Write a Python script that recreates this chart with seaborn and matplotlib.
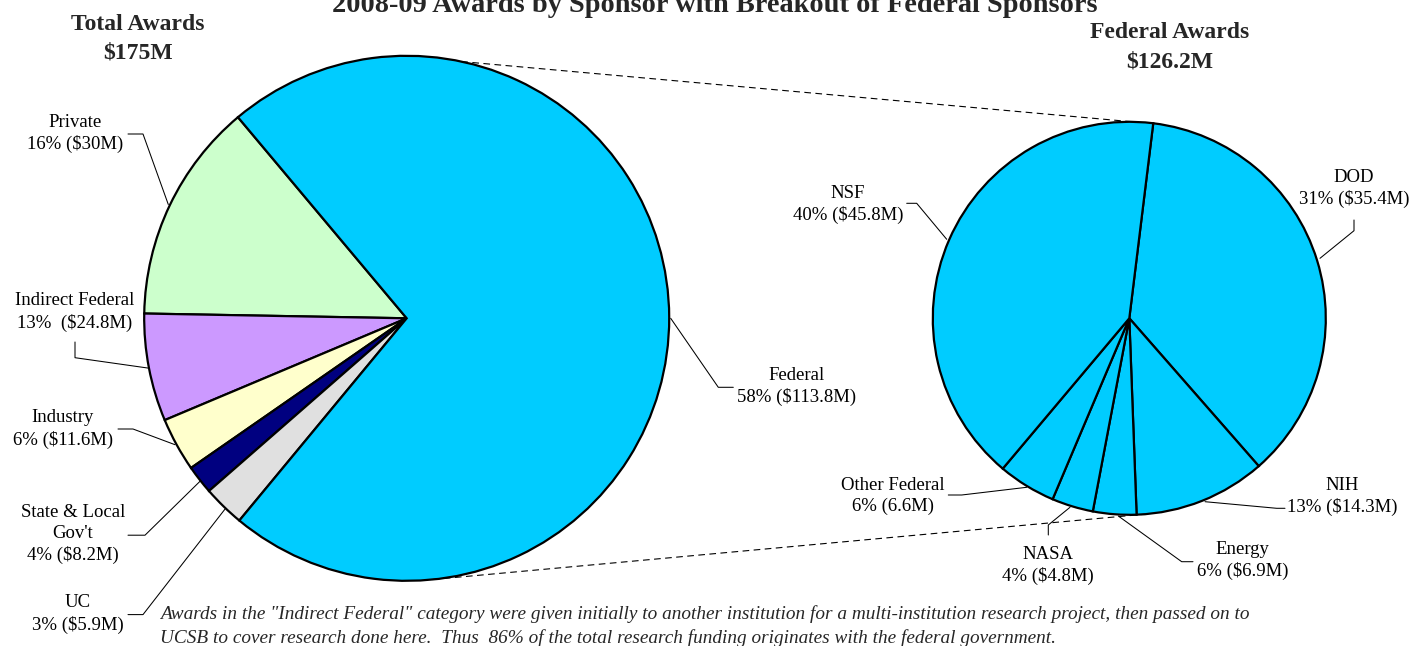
import numpy as np
import matplotlib
matplotlib.use("Agg")
import matplotlib.pyplot as plt
import seaborn as sns

# ---------------- data ----------------
outer_categories = ["Private", "Indirect Federal", "Industry", "State & Local Gov't", "UC", "Federal"]
outer_values = [23.8, 11.6, 5.8, 3.1, 4.5, 126.2]
outer_label_text = ["Private\n16% ($30M)", "Indirect Federal\n13%  ($24.8M)", "Industry\n6% ($11.6M)",
                    "State & Local\nGov't\n4% ($8.2M)", "UC\n3% ($5.9M)", "Federal\n58% ($113.8M)"]
outer_colors = ["#CCFFCC", "#CC99FF", "#FFFFCC", "#000080", "#E0E0E0", "#00CCFF"]

inner_categories = ["DOD", "NIH", "Energy", "NASA", "Other Federal", "NSF"]
inner_values = [46.2, 13.7, 4.5, 4.3, 6.0, 51.5]
inner_label_text = ["DOD\n31% ($35.4M)", "NIH\n13% ($14.3M)", "Energy\n6% ($6.9M)",
                    "NASA\n4% ($4.8M)", "Other Federal\n6% (6.6M)", "NSF\n40% ($45.8M)"]
inner_color = "#00CCFF"

title = "2008-09 Awards by Sponsor with Breakout of Federal Sponsors"
left_header = ["Total Awards", "$175M"]
right_header = ["Federal Awards", "$126.2M"]
footnote = ['Awards in the "Indirect Federal" category were given initially to another institution for a multi-institution research project, then passed on to',
            'UCSB to cover research done here.  Thus  86% of the total research funding originates with the federal government.']

# ---------------- style ----------------
sns.set_theme(style="white")
plt.rcParams['font.family'] = ['Liberation Serif', 'DejaVu Serif']

W, H = 1412, 646
fig = plt.figure(figsize=(W / 100, H / 100), dpi=100)
ax = fig.add_axes([0, 0, 1, 1])

def Y(y):
    return H - y

# layout (pixels)
lc, lr = (406.7, Y(318.3)), 262.5
rc, rr = (1129.3, Y(318.3)), 196.5

wp = dict(edgecolor="black", linewidth=1.6)
ax.pie(outer_values, colors=outer_colors, startangle=130.0, counterclock=True,
       radius=lr, center=lc, wedgeprops=wp)
ax.pie(inner_values, colors=[inner_color] * len(inner_values), startangle=83.0, counterclock=False,
       radius=rr, center=rc, wedgeprops=wp)

ax.set_xlim(0, W)
ax.set_ylim(0, H)
ax.set_aspect("equal")
ax.axis("off")

# connector dashed lines
def pt(c, r, ang):
    a = np.deg2rad(ang)
    return c[0] + r * np.cos(a), c[1] + r * np.sin(a)

for a1, a2 in [(78.0, 89.0), (-84.3, -85.4)]:
    p1 = pt(lc, lr, a1)
    p2 = pt(rc, rr, a2)
    ax.plot([p1[0], p2[0]], [p1[1], p2[1]], color="black", lw=0.8,
            dashes=(6, 4), clip_on=False)

# labels
fs = 13.5
outer_pos = [(75, 133.5), (75, 312), (63, 429), (73, 534), (78, 614), (797, 386.5)]
outer_lead = [
    [(128, 134), (143, 134), (168.3, 204.5)],
    [(75, 342), (75, 357.7), (148.3, 368.1)],
    [(118, 429), (133, 429), (175, 444.7)],
    [(128, 535.2), (145, 535.2), (200, 481.3)],
    [(128, 614.6), (143, 614.6), (225, 509.1)],
    [(733.3, 387.3), (718.3, 387.3), (670.7, 318.3)],
]
inner_pos = [(1354, 188.3), (1342, 496.2), (1242.5, 560.5), (1048.3, 565.5), (893.3, 496.3), (848, 204.5)]
inner_lead = [
    [(1354, 220), (1354, 230.7), (1320, 258.3)],
    [(1285, 508.3), (1276.7, 508.3), (1205, 501.7)],
    [(1193, 561.7), (1181.7, 561.7), (1118.3, 516)],
    [(1048.3, 535), (1048.3, 525), (1070, 507.3)],
    [(948.3, 495), (961.7, 495), (1026.7, 487.3)],
    [(906.7, 203.3), (916.7, 203.3), (946.7, 239.3)],
]

for txt, (x, y), lead in zip(outer_label_text + inner_label_text,
                             outer_pos + inner_pos, outer_lead + inner_lead):
    ax.text(x, Y(y), txt, ha="center", va="center", multialignment="center",
            fontsize=fs, linespacing=1.3, color="black")
    xs = [p[0] for p in lead]
    ys = [Y(p[1]) for p in lead]
    ax.plot(xs, ys, color="black", lw=0.75, clip_on=False)

# headers and title
ax.text(715, Y(12), title, ha="center", va="baseline", fontsize=20.4, fontweight="bold")
for line, yy in zip(left_header, [24, 53]):
    ax.text(138, Y(yy), line, ha="center", va="center", fontsize=17, fontweight="bold")
for line, yy in zip(right_header, [33, 62]):
    ax.text(1170, Y(yy), line, ha="center", va="center", fontsize=17, fontweight="bold")

# footnote
for line, yy in zip(footnote, [614, 638]):
    ax.text(160, Y(yy), line, ha="left", va="center", fontsize=13.9, style="italic")

fig.savefig("out.png", dpi=100)
